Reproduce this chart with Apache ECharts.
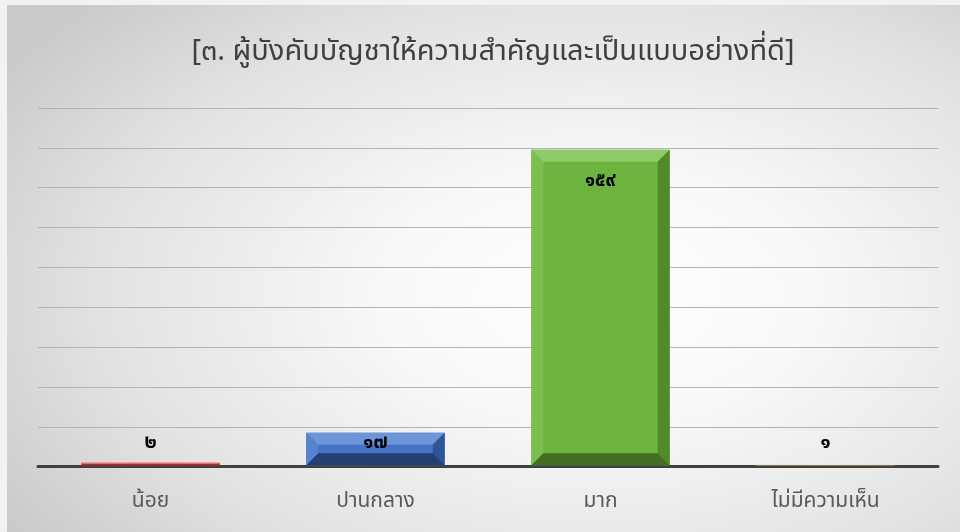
<!DOCTYPE html>
<html>
<head>
<meta charset="utf-8">
<script src="https://cdn.jsdelivr.net/npm/echarts@6/dist/echarts.min.js"></script>
<style>
html,body{margin:0;padding:0;background:#f2f2f2;}
#frame{position:absolute;left:7px;top:5px;width:953px;height:527px;
background:radial-gradient(ellipse 75% 80% at 62% 55%, #ffffff 0%, #f8f8f8 30%, #e2e2e2 70%, #c9c9c9 100%);}
#chart{position:absolute;left:0;top:0;width:960px;height:532px;}
</style>
</head>
<body>
<div id="frame"></div>
<div id="chart"></div>
<script>
const titleText = '[๓. ผู้บังคับบัญชาให้ความสำคัญและเป็นแบบอย่างที่ดี]';
const categories = ['น้อย', 'ปานกลาง', 'มาก', 'ไม่มีความเห็น'];
const values = [2, 17, 159, 1];
const yMin = 0, yMax = 180, yInterval = 20;

const palettes = [
  {face:'#e5423b', top:'#f07a74', left:'#ea5a54', right:'#b8302a', bottom:'#9e2520'},
  {face:'#4472c4', top:'#6d95da', left:'#5682cf', right:'#2f5597', bottom:'#243f73'},
  {face:'#6db33f', top:'#8fcb66', left:'#7cbf50', right:'#4f8a2b', bottom:'#416f23'},
  {face:'#f0cfae', top:'#f6e2cf', left:'#f3d8bd', right:'#d8b08c', bottom:'#c89e78'}
];
const thaiDigits = '๐๑๒๓๔๕๖๗๘๙';
function toThai(n){ return String(n).replace(/[0-9]/g, d => thaiDigits[+d]); }

const FONT = '"Tahoma","Leelawadee UI","Noto Sans Thai","Loma","Garuda","Noto Sans","DejaVu Sans",sans-serif';

const chart = echarts.init(document.getElementById('chart'), null, {renderer:'canvas'});
chart.setOption({
  animation:false,
  title:{text:titleText, left:488, textAlign:'center', top:35,
    textStyle:{fontSize:29, fontWeight:'normal', color:'#404040', fontFamily:FONT}},
  grid:{left:38, right:22, top:108, bottom:65.3, containLabel:false},
  xAxis:{type:'category', data:categories,
    axisLine:{show:true, lineStyle:{color:'#404040', width:3}},
    axisTick:{show:false},
    axisLabel:{fontSize:21, color:'#595959', margin:26, fontFamily:FONT}},
  yAxis:{type:'value', min:yMin, max:yMax, interval:yInterval,
    axisLabel:{show:false}, axisLine:{show:false}, axisTick:{show:false},
    splitLine:{show:true, lineStyle:{color:'#b4b4b4', width:1}}},
  series:[{
    type:'custom',
    data: values.map((v,i)=>[i,v]),
    renderItem:function(params, api){
      const idx = api.value(0), val = api.value(1);
      const topPt = api.coord([idx, val]);
      const botPt = api.coord([idx, 0]);
      const bw = api.size([1,0])[0] * 0.615;
      const x0 = topPt[0] - bw/2, x1 = topPt[0] + bw/2;
      const y0 = topPt[1], y1 = botPt[1] - 1.5;
      const h = y1 - y0;
      const b = Math.min(12, h/2.6);
      const p = palettes[idx % palettes.length];
      const children = [
        {type:'rect', shape:{x:x0, y:y0, width:bw, height:h}, style:{fill:p.face}},
        {type:'polygon', shape:{points:[[x0,y0],[x1,y0],[x1-b,y0+b],[x0+b,y0+b]]}, style:{fill:p.top}},
        {type:'polygon', shape:{points:[[x0,y0],[x0+b,y0+b],[x0+b,y1-b],[x0,y1]]}, style:{fill:p.left}},
        {type:'polygon', shape:{points:[[x1,y0],[x1,y1],[x1-b,y1-b],[x1-b,y0+b]]}, style:{fill:p.right}},
        {type:'polygon', shape:{points:[[x0,y1],[x0+b,y1-b],[x1-b,y1-b],[x1,y1]]}, style:{fill:p.bottom}}
      ];
      const labelY = h > 100 ? y0 + 32 : botPt[1] - 23;
      children.push({type:'text', x:topPt[0], y:labelY,
        style:{text:toThai(val), fill:'#000', font:'bold 19px ' + FONT, align:'center', verticalAlign:'middle'}});
      return {type:'group', children:children};
    }
  }]
});
</script>
</body>
</html>
